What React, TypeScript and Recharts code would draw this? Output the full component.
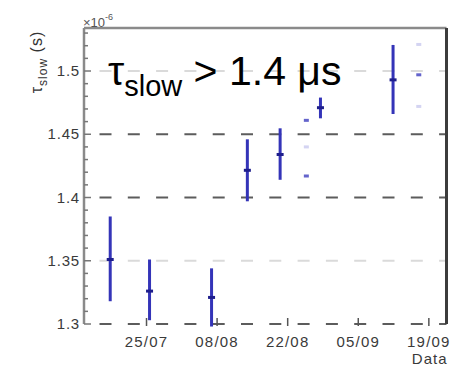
import { ComposedChart, Scatter, ErrorBar, XAxis, YAxis, ReferenceLine } from 'recharts';

// days counted from 25/07
const DAYS = [-7.2, 0.6, 12.9, 20.0, 26.5, 34.5, 48.9];
const TAU = [1.351, 1.326, 1.321, 1.4215, 1.434, 1.471, 1.493];
const TAU_LO = [1.318, 1.303, 1.298, 1.397, 1.414, 1.4626, 1.466];
const TAU_HI = [1.385, 1.351, 1.344, 1.446, 1.4547, 1.479, 1.5206];

// faint marks left over from pale error bars
const FAINT_DAYS = [31.7, 31.7, 54.0];
const FAINT_TAU = [1.461, 1.417, 1.497];
const PALE_DAYS = [31.7, 54.0, 54.0];
const PALE_TAU = [1.44, 1.521, 1.472];

const X_TICKS = [0, 14, 28, 42, 56];
const X_LABELS = ['25/07', '08/08', '22/08', '05/09', '19/09'];
const X_MIN = -12.4;
const X_MAX = 59.5;

const Y_MIN = 1.3;
const Y_MAX = 1.534;
const Y_MAJOR = [1.3, 1.35, 1.4, 1.45, 1.5];
const Y_TICKS = [
  1.3, 1.31, 1.32, 1.33, 1.34, 1.35, 1.36, 1.37, 1.38, 1.39, 1.4, 1.41,
  1.42, 1.43, 1.44, 1.45, 1.46, 1.47, 1.48, 1.49, 1.5, 1.51, 1.52, 1.53,
];
const GRID_DARK = [1.3, 1.4, 1.45];
const GRID_LIGHT = [1.35, 1.5];

const FONT = '"Liberation Sans", Arial, sans-serif';

const mainData = DAYS.map((d, i) => ({
  x: d,
  y: TAU[i],
  err: [TAU[i] - TAU_LO[i], TAU_HI[i] - TAU[i]],
}));
const faintData = FAINT_DAYS.map((d, i) => ({ x: d, y: FAINT_TAU[i] }));
const paleData = PALE_DAYS.map((d, i) => ({ x: d, y: PALE_TAU[i] }));

const isMajor = (v: number) => Y_MAJOR.some((m) => Math.abs(m - v) < 1e-6);

function YTick(props: any) {
  const { x, y, payload } = props;
  const major = isMajor(payload.value);
  return (
    <g>
      <line x1={x} x2={x + (major ? 7 : 4)} y1={y} y2={y} stroke="#777" strokeWidth={1.5} />
      {major && (
        <text x={x - 4} y={y + 5} textAnchor="end" fontSize={15} letterSpacing={0.8} fill="#3a3a3a" fontFamily={FONT}>
          {String(payload.value)}
        </text>
      )}
    </g>
  );
}

function XTick(props: any) {
  const { x, y, payload, index } = props;
  return (
    <g>
      <line x1={x} x2={x} y1={y - 6} y2={y + 2} stroke="#555" strokeWidth={1.5} />
      <text x={x} y={y + 23} textAnchor="middle" fontSize={15} letterSpacing={1.2} fill="#3a3a3a" fontFamily={FONT}>
        {X_LABELS[index] ?? payload.value}
      </text>
    </g>
  );
}

const centerMark = (props: any) => (
  <rect x={props.cx - 3.5} y={props.cy - 1.5} width={7} height={3} fill="#1e1e8c" />
);
const faintMark = (props: any) => (
  <rect x={props.cx - 2.5} y={props.cy - 1.5} width={5} height={3} fill="#6464cc" />
);
const paleMark = (props: any) => (
  <rect x={props.cx - 2.5} y={props.cy - 1.5} width={5} height={3} fill="#d4d4f2" />
);

export default function App() {
  return (
    <div style={{ position: 'absolute', left: 0, top: 0, width: 459, height: 367, background: '#fff' }}>
      <ComposedChart width={459} height={367} margin={{ top: 28, right: 12.5, left: 0, bottom: 0 }}>
        <XAxis
          type="number"
          dataKey="x"
          domain={[X_MIN, X_MAX]}
          allowDataOverflow
          ticks={X_TICKS}
          interval={0}
          height={43}
          axisLine={false}
          tickLine={false}
          tickSize={0}
          tickMargin={0}
          tick={<XTick />}
          label={{
            content: (p: any) => {
              const vb = p.viewBox;
              return (
                <text x={vb.x + vb.width + 1} y={vb.y + 40} textAnchor="end" fontSize={15} letterSpacing={1} fill="#3a3a3a" fontFamily={FONT}>
                  Data
                </text>
              );
            },
          }}
        />
        <YAxis
          type="number"
          dataKey="y"
          domain={[Y_MIN, Y_MAX]}
          allowDataOverflow
          ticks={Y_TICKS}
          interval={0}
          width={84}
          axisLine={{ stroke: '#8a8a8a', strokeWidth: 2.5 }}
          tickLine={false}
          tickSize={0}
          tickMargin={0}
          tick={<YTick />}
          label={{
            content: (p: any) => {
              const vb = p.viewBox;
              return (
                <g fontFamily={FONT} fill="#333">
                  <text
                    x={42}
                    y={vb.y + 34}
                    transform={`rotate(-90, 42, ${vb.y + 34})`}
                    textAnchor="middle"
                    fontSize={16}
                    letterSpacing={1}
                  >
                    τ<tspan dy={5} fontSize={12}>slow</tspan>
                    <tspan dy={-5}> (s)</tspan>
                  </text>
                  <text x={vb.x + vb.width - 1} y={vb.y - 1} fontSize={13} fill="#555">
                    ×10<tspan dy={-7} fontSize={9}>-6</tspan>
                  </text>
                </g>
              );
            },
          }}
        />
        {GRID_LIGHT.map((v) => (
          <ReferenceLine key={`l${v}`} y={v} stroke="#dadada" strokeWidth={1.8} strokeDasharray="12 16.3" strokeDashoffset={12.8} />
        ))}
        {GRID_DARK.map((v) => (
          <ReferenceLine key={`d${v}`} y={v} stroke="#5c5c5c" strokeWidth={1.8} strokeDasharray="12 16.3" strokeDashoffset={12.8} />
        ))}
        <ReferenceLine y={Y_MAX} stroke="#8a8a8a" strokeWidth={2.5} />
        <ReferenceLine x={X_MAX} stroke="#3c3c3c" strokeWidth={3} />
        <Scatter data={paleData} shape={paleMark} isAnimationActive={false} />
        <Scatter data={faintData} shape={faintMark} isAnimationActive={false} />
        <Scatter data={mainData} shape={centerMark} isAnimationActive={false}>
          <ErrorBar dataKey="err" direction="y" width={0} stroke="#3434b8" strokeWidth={3} isAnimationActive={false} />
        </Scatter>
      </ComposedChart>
      <svg width={459} height={367} style={{ position: 'absolute', left: 0, top: 0, pointerEvents: 'none' }}>
        <text x={108} y={85} fontSize={41} fill="#000" fontFamily={FONT}>
          τ<tspan dy={11} fontSize={29}>slow</tspan>
          <tspan dy={-11}> &gt; 1.4 μs</tspan>
        </text>
      </svg>
    </div>
  );
}
